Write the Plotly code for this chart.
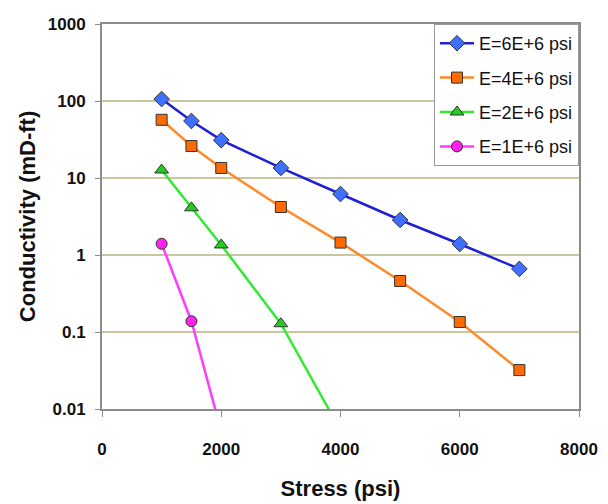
import plotly.graph_objects as go

stress = [1000, 1500, 2000, 3000, 4000, 5000, 6000, 7000]
e6 = [106, 55, 31, 13.5, 6.2, 2.85, 1.39, 0.66]
e4 = [57, 26, 13.5, 4.2, 1.45, 0.46, 0.135, 0.032]
stress_e2 = [1000, 1500, 2000, 3000, 4000]
e2 = [12.7, 4.1, 1.35, 0.128, 0.0053]
stress_e1 = [1000, 1500, 2000]
e1 = [1.4, 0.138, 0.0051]

names = ["E=6E+6 psi", "E=4E+6 psi", "E=2E+6 psi", "E=1E+6 psi"]
ytickvals = [0.01, 0.1, 1, 10, 100, 1000]
yticktext = ["0.01", "0.1", "1", "10", "100", "1000"]
xtickvals = [0, 2000, 4000, 6000, 8000]

FONT = "Arial, Liberation Sans, sans-serif"
TXT = "#111111"

fig = go.Figure()
series = [
    (stress, e6, names[0], "#1f1fd6", "#3f6fff", "diamond", 12),
    (stress, e4, names[1], "#ff8a2a", "#ff6a00", "square", 11),
    (stress_e2, e2, names[2], "#33ea33", "#22cc22", "triangle-up", 12),
    (stress_e1, e1, names[3], "#ff3cff", "#ff22ee", "circle", 11),
]
for i, (x, y, n, lc, mc, sym, sz) in enumerate(series):
    fig.add_trace(go.Scatter(
        x=x, y=y, name=n, mode="lines+markers", legendgroup="g%d" % i,
        line=dict(color=lc, width=2.5),
        marker=dict(symbol=sym, size=sz, color=mc, line=dict(color="#333333", width=1)),
        cliponaxis=True,
    ))

fig.update_layout(
    width=600, height=496,
    margin=dict(l=94, r=29, t=16, b=95),
    paper_bgcolor="white", plot_bgcolor="white",
    font=dict(family=FONT, color=TXT),
    legend=dict(
        x=1.0, y=1.0, xanchor="right", yanchor="top",
        bgcolor="white", bordercolor="#999999", borderwidth=1,
        font=dict(size=18, family=FONT, color=TXT),
        tracegroupgap=8, itemwidth=34,
    ),
    showlegend=True,
)
fig.update_xaxes(
    range=[0, 8000], tickvals=xtickvals, automargin=False,
    showgrid=False, zeroline=False,
    showline=True, linecolor="#8c8c8c", linewidth=2, mirror=True,
    ticks="outside", ticklen=6, tickcolor="#8c8c8c", ticklabelstandoff=18,
    tickfont=dict(size=17, family=FONT, weight="bold", color=TXT),
    title=dict(text="Stress (psi)", font=dict(size=22, family=FONT, weight="bold", color=TXT), standoff=22),
)
fig.update_yaxes(
    type="log", range=[-2, 3], tickvals=ytickvals, ticktext=yticktext, automargin=False,
    showgrid=True, gridcolor="#c8c8a0", gridwidth=2,
    zeroline=False,
    showline=True, linecolor="#8c8c8c", linewidth=2, mirror=True,
    ticks="outside", ticklen=5, tickcolor="#8c8c8c", ticklabelstandoff=6,
    tickfont=dict(size=17, family=FONT, weight="bold", color=TXT),
    title=dict(text="Conductivity (mD-ft)", font=dict(size=22, family=FONT, weight="bold", color=TXT), standoff=6),
)

fig.write_html("out.html")
